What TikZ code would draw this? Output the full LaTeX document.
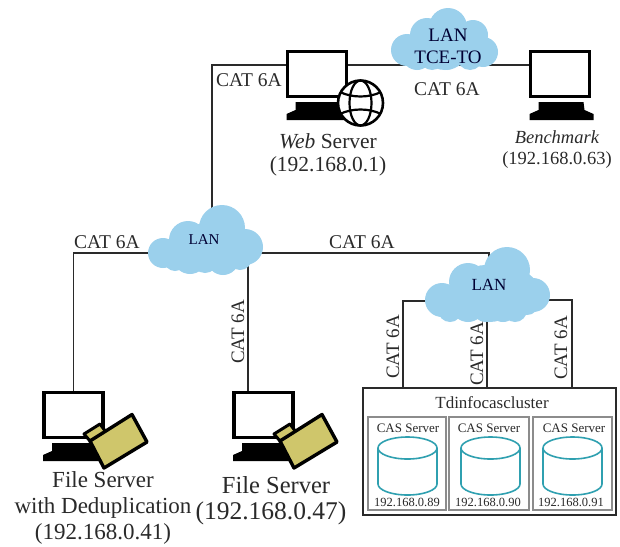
\documentclass[tikz,border=0pt]{standalone}
\usepackage{fontspec}
\setmainfont{Liberation Serif}
\usetikzlibrary{backgrounds,calc}
\definecolor{cloudblue}{HTML}{9BD0EC}
\definecolor{foldery}{HTML}{CFC66B}
\definecolor{cylteal}{HTML}{2FA0B0}
\definecolor{inkdark}{HTML}{2A2A2A}
\tikzset{
  monframe/.style={draw=black,line width=3.4pt,fill=white,minimum width=59pt,minimum height=45pt,inner sep=0pt,outer sep=0pt},
  link/.style={draw=inkdark,line width=1.1pt},
  puff/.style={fill=cloudblue,draw=none},
  cloudbox/.style={inner sep=0pt,outer sep=0pt,text=black!80!blue,align=center},
  lbl/.style={inner sep=0pt,font=\fontsize{19.5}{21}\selectfont,text=inkdark},
  vlbl/.style={inner sep=0pt,rotate=90,font=\fontsize{19}{21}\selectfont,text=inkdark},
  caption/.style={inner sep=0pt,font=\fontsize{21.5}{23}\selectfont,text=inkdark,align=center},
  smalllbl/.style={inner sep=0pt,font=\fontsize{13}{15}\selectfont,text=inkdark},
  casbox/.style={draw=black!45,line width=1.1pt,fill=white,minimum width=78pt,minimum height=93pt,inner sep=0pt},
  cyl/.style={draw=cylteal,line width=1.6pt},
}
\newcommand{\monitorat}[3]{%
  \fill[black] (#1-21.5,#2+28) -- ++(45,0) -- ++(1,8) -- ++(9,4) -- ++(0,6) -- ++(-64,0) -- ++(0,-6) -- ++(9,-4) -- cycle;
  \node[monframe] (#3) at (#1,#2) {};
}
\newcommand{\folderat}[1]{%
  \begin{scope}[xshift=#1pt]
  \filldraw[fill=foldery,draw=black,line width=3pt,line join=round] (84,434) -- (100,424) -- (106,432) -- (90,441) -- cycle;
  \filldraw[fill=foldery,draw=black,line width=3.4pt,line join=round] (90,441) -- (132,414.5) -- (147,442) -- (104,468) -- cycle;
  \end{scope}
}
\newcommand{\cylat}[1]{%
  \begin{scope}[xshift=#1pt]
  \draw[cyl,fill=white] (0,448) -- (0,484) arc[start angle=180,end angle=360,x radius=29.5pt,y radius=11pt] -- (59,448);
  \draw[cyl,fill=white] (29.5,448) ellipse[x radius=29.5pt,y radius=11pt];
  \end{scope}
}
\begin{document}
\begin{tikzpicture}[x=1pt,y=-1pt]
\useasboundingbox (0,0) rectangle (620,546);
% clouds
\foreach \a/\b/\r in {407/50/16,427/35/17,448/27/19,473/35/15,483/52/15,447/57/13,417/55/15,470/57/13,445/45/25,425/48/15,465/48/15,432/58/12} \fill[puff] (\a,\b) circle[radius=\r pt];
\foreach \a/\b/\r in {163/253/15,188/240/19,222/228/23,245/247/18,223/259/16,190/257/17,205/245/22,215/250/20,205/260/13,240/258/12,175/260/11} \fill[puff] (\a,\b) circle[radius=\r pt];
\foreach \a/\b/\r in {442/300/17,468/282/19,507/270/23,533/295/17,503/308/14,468/305/17,527/303/12,485/290/25,485/311/11,450/310/12,515/310/12,490/295/27,520/290/18} \fill[puff] (\a,\b) circle[radius=\r pt];
\node[cloudbox,font=\fontsize{19}{22}\selectfont] (topcloud) at (448,46) {LAN\\TCE-TO};
\node[cloudbox,font=\fontsize{15}{17}\selectfont] (lanmid) at (204,240) {LAN};
\node[cloudbox,font=\fontsize{17}{19}\selectfont] (lanclus) at (489,285) {LAN};
% monitors
\monitorat{317}{74}{webmon}
\monitorat{560}{74}{benchmon}
\monitorat{73.5}{415}{filemonA}
\monitorat{263.5}{415}{filemonB}
% globe
\filldraw[fill=white,draw=black,line width=2.6pt] (360.5,103) circle[radius=22.5pt];
\draw[black,line width=2.2pt] (360.5,103) ellipse[x radius=11pt,y radius=22.5pt];
\draw[black,line width=2.2pt] (340,92) .. controls (352,98) and (369,98) .. (381,92);
\draw[black,line width=2.2pt] (340,114) .. controls (352,108) and (369,108) .. (381,114);
\folderat{0}
\folderat{190}
% cluster
\node[draw=inkdark,line width=1.5pt,minimum width=253pt,minimum height=127pt,inner sep=0pt,outer sep=0pt] (cluster) at (489.5,451.5) {};
\node[casbox] (casA) at (407,463.5) {};
\node[casbox,minimum width=80pt] (casB) at (489,463.5) {};
\node[casbox,minimum width=79pt] (casC) at (572.5,463.5) {};
\cylat{378}
\cylat{461}
\cylat{543}
\node[lbl,font=\fontsize{17}{19}\selectfont] (clustertitle) at (492,403) {Tdinfocascluster};
\foreach \nm/\cx/\ipx/\ip in {A/408/407/192.168.0.89,B/489/488/192.168.0.90,C/574/571/192.168.0.91}{
  \node[smalllbl] (casname\nm) at (\cx,428) {CAS Server};
  \node[smalllbl,font=\fontsize{12.5}{15}\selectfont] (casip\nm) at (\ipx,502) {\ip};
}
% labels
\node[lbl] (catA) at (249,80) {CAT 6A};
\node[lbl] (catB) at (447,89) {CAT 6A};
\node[lbl] (catC) at (107,242) {CAT 6A};
\node[lbl] (catD) at (362,242) {CAT 6A};
\node[vlbl] (catE) at (238,332) {CAT 6A};
\node[vlbl] (catF) at (393,347) {CAT 6A};
\node[vlbl] (catG) at (477,354) {CAT 6A};
\node[vlbl] (catH) at (561,348) {CAT 6A};
\node[caption] (webtxt) at (328,155) {\textit{Web} Server\\(192.168.0.1)};
\node[caption,font=\fontsize{18.5}{21}\selectfont] (benchtxt) at (557,149.5) {\textit{Benchmark}\\(192.168.0.63)};
\node[caption,font=\fontsize{23}{26}\selectfont] (fileAtxt) at (103,507.5) {File Server\\with Deduplication\\(192.168.0.41)};
\node[caption,font=\fontsize{24.5}{28}\selectfont] (fileBname) at (276,485) {File Server};
\node[caption,font=\fontsize{25.5}{28}\selectfont] (fileBip) at (271,513) {(192.168.0.47)};
% connectors
\begin{scope}[on background layer]
\draw[link] ([yshift=9pt]webmon.west) -| ([xshift=8pt]lanmid.north);
\draw[link] ([yshift=9pt]webmon.east) -- ([yshift=9pt]webmon.east -| topcloud.center);
\draw[link] ([yshift=9pt]benchmon.west) -- ([yshift=9pt]benchmon.west -| topcloud.center);
\draw[link] ([yshift=-13pt]lanmid.center) -| (filemonA.north);
\draw[link] ([xshift=-15.5pt]filemonB.north) -- ([xshift=44pt,yshift=-13pt]lanmid.center);
\draw[link] ([yshift=-13pt]lanmid.center) -| (lanclus.north);
\draw[link] ([yshift=-16pt]lanclus.center) -| ([xshift=-86.5pt]cluster.north);
\draw[link] ([xshift=-2.5pt]cluster.north) -- ++(0,-80);
\draw[link] ([yshift=-15pt]lanclus.center) -| ([xshift=82.5pt]cluster.north);
\end{scope}
\end{tikzpicture}
\end{document}
